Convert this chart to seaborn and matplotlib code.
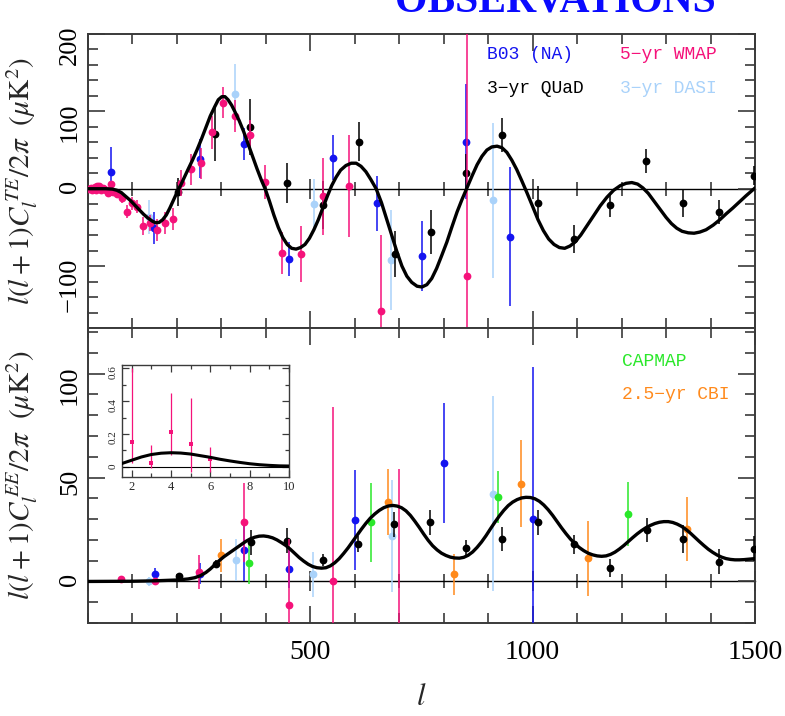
import numpy as np
import pandas as pd
import matplotlib
matplotlib.use('Agg')
import matplotlib.pyplot as plt
import seaborn as sns
from matplotlib.ticker import MultipleLocator, FixedLocator

sns.set_theme(style='ticks')
plt.rcParams['font.family'] = ['Liberation Serif', 'DejaVu Serif']
plt.rcParams['mathtext.fontset'] = 'stix'

# ---------------- TE panel data ----------------
te_theory_l = [0, 20, 40, 55, 65, 75, 85, 95, 105, 115, 125, 135, 145, 152, 160, 168, 176, 184, 192,
               200, 208, 216, 225, 235, 245, 255, 265, 275, 285, 293, 301, 308, 315, 323, 330, 340,
               350, 360, 370, 380, 390, 399, 408, 418, 428, 438, 448, 458, 468, 478, 488, 498, 508,
               518, 528, 538, 548, 558, 568, 580, 592, 603, 614, 625, 636, 648, 660, 672, 684, 695,
               706, 717, 728, 740, 751, 762, 773, 784, 795, 807, 818, 830, 841, 852, 864, 875, 886,
               897, 908, 920, 931, 942, 953, 964, 975, 987, 1000, 1012, 1024, 1036, 1048, 1060, 1072,
               1084, 1095, 1108, 1122, 1137, 1152, 1167, 1182, 1197, 1210, 1223, 1236, 1248, 1260,
               1273, 1287, 1300, 1312, 1324, 1336, 1350, 1363, 1376, 1390, 1406, 1421, 1436, 1450,
               1465, 1480, 1500]
te_theory = [0, 0, 0, -0.5, -2, -5, -10, -15, -21, -27, -33, -38, -42, -44, -43.5, -40, -34, -25, -15,
             -5, 4, 14, 25, 37, 50, 64, 79, 94, 106, 115, 119, 119, 115, 108, 100, 88,
             74, 58, 42, 26, 11, -1, -16, -34, -50, -63, -72, -77, -78, -76, -72, -64, -53,
             -40, -25, -10, 4, 15, 24, 30, 33, 33, 29, 22, 12, 0, -18, -40, -62, -82,
             -100, -113, -121, -126, -127, -124, -116, -103, -87, -69, -50, -30, -14, 1, 17, 31, 42,
             50, 54, 55, 53, 47, 37, 25, 11, -5, -23, -40, -54, -65, -72, -76, -77,
             -74, -69, -60, -48, -35, -22, -11, -2, 4, 7, 8, 6, 1, -6,
             -16, -27, -37, -45, -51, -55, -57, -57.5, -56, -53, -47, -40, -32, -25,
             -17, -9, 1]

wmap_te_l = [3, 6, 9, 12, 15, 18, 21, 24, 27, 30, 33, 36, 40, 44, 48, 52, 56,
             66, 77, 88, 99, 110, 124, 140, 155, 173, 191, 209, 232, 253, 279, 304, 331,
             364, 397, 436, 478, 528, 586, 659, 852]
wmap_te = [0, 1, -1, 0, 2, -1, 4, 3, 0, -2, 1, 0, -1, -5, -3, 6, -4,
           -7, -12.5, -29.6, -19, -23, -48, -44, -53, -44, -39, 7, 25, 33, 73, 111, 94,
           69, 9, -83, -84, -10, 4, -158, -113]
wmap_te_err = [2, 2, 2, 2, 2, 2, 2, 2, 2, 2, 2, 2, 3, 3, 3, 4, 4,
               5, 6, 8, 8, 9, 12, 10, 14, 14, 14, 17, 20, 20, 21, 20, 21,
               20, 22, 27, 36, 50, 66, 98, 330]

b03_te_l = [51, 149, 251, 350, 451, 550, 650, 751, 850, 949]
b03_te = [22, -51, 39, 58, -91, 40, -19, -87, 61, -62]
b03_te_err = [32, 21, 25, 21, 22, 29, 35, 45, 74, 90]

dasi_te_l = [137, 331, 509, 682, 910]
dasi_te = [-36, 122, -20, -92, -15]
dasi_te_err = [22, 39, 33, 65, 100]

quad_te_l = [202, 286, 365, 448, 528, 609, 691, 771, 850, 932, 1013, 1094, 1174, 1255, 1337, 1418, 1498]
quad_te = [-4, 71, 80, 7, -21, 61, -84, -56, 20, 69, -18, -65, -21, 36, -19, -30, 17]
quad_te_err = [18, 35, 36, 26, 31, 25, 30, 28, 25, 22, 22, 18, 16, 16, 17, 15, 12]

# ---------------- EE panel data ----------------
ee_theory_l = [0, 100, 150, 200, 225, 240, 253, 265, 275, 285, 295, 305, 315, 325, 335, 345, 355,
               365, 375, 385, 395, 405, 415, 425, 435, 445, 455, 465, 475, 485, 495, 505, 515, 525,
               535, 545, 555, 565, 575, 585, 595, 605, 615, 625, 635, 645, 655, 665, 675, 685, 695,
               705, 715, 725, 735, 745, 755, 765, 775, 785, 795, 805, 815, 825, 835, 845, 855, 865,
               875, 885, 895, 905, 915, 925, 935, 945, 955, 965, 975, 985, 995, 1005, 1015, 1025,
               1035, 1045, 1055, 1065, 1075, 1085, 1095, 1105, 1115, 1125, 1135, 1145, 1155, 1165,
               1175, 1185, 1195, 1205, 1215, 1225, 1235, 1245, 1255, 1265, 1275, 1285, 1295, 1305,
               1315, 1325, 1335, 1345, 1355, 1365, 1375, 1385, 1395, 1405, 1415, 1425, 1435, 1445,
               1455, 1465, 1475, 1485, 1500]
ee_theory = [0, 0.1, 0.3, 0.7, 1.2, 1.8, 2.8, 4.3, 6, 8, 10, 11.8, 13.3, 14.8, 16.3, 17.8, 19.3,
             20.5, 21.3, 21.8, 21.9, 21.6, 21, 20, 18.7, 17.3, 15.5, 13.5, 11.5, 9.8, 8.3, 7.2, 6.6, 6.4,
             6.6, 7.5, 9, 11, 13.5, 16.2, 19.2, 22.2, 25.2, 28, 30.5, 32.5, 34.2, 35.5, 36.3, 36.6, 36.3,
             35.5, 34, 31.8, 29, 26, 22.8, 19.8, 17.2, 15.2, 13.6, 12.5, 11.7, 11.3, 11.2, 11.6, 12.6, 14.2,
             16.4, 19, 22, 25.3, 28.5, 31.5, 34.2, 36.5, 38.2, 39.4, 40.2, 40.5, 40.4, 39.8, 38.6, 36.8,
             34.5, 31.8, 28.8, 25.8, 23, 20.4, 18.2, 16.3, 14.8, 13.6, 12.8, 12.3, 12.1, 12.3,
             13, 14.1, 15.6, 17.3, 19.2, 21.1, 22.9, 24.5, 25.9, 27, 27.9, 28.5, 28.8, 28.8,
             28.4, 27.6, 26.5, 25, 23.2, 21.2, 19.2, 17.3, 15.5, 14, 12.7, 11.7, 11, 10.6,
             10.4, 10.4, 10.5, 10.7, 11]

wmap_ee_l = [75, 150, 249, 350, 451, 550, 700]
wmap_ee = [1, 0, 4.5, 28.4, -11.5, 0, -30]
wmap_ee_err = [1, 1, 8, 19, 32, 84, 84]

b03_ee_l = [150, 251, 350, 451, 600, 800, 1000]
b03_ee = [3.4, 3.7, 15.2, 6, 29.5, 57, 30]
b03_ee_err = [3, 5, 15, 9, 24, 29, 73]

dasi_ee_l = [137, 333, 507, 684, 911]
dasi_ee = [0, 10.4, 3.4, 22, 42.3]
dasi_ee_err = [2, 10, 11, 27, 47]

quad_ee_l = [204, 287, 367, 448, 528, 607, 689, 770, 851, 932, 1013, 1094, 1174, 1257, 1337, 1418, 1498]
quad_ee = [2.4, 8.5, 18.8, 19.6, 10.4, 18, 27.6, 28.4, 16.1, 20.4, 28.4, 18, 6.4, 24.9, 20.4, 9.6, 15.7]
quad_ee_err = [1.5, 2, 6, 6, 3, 4, 6, 6, 4, 5.6, 6, 4.6, 4.4, 5.7, 6.6, 6, 6]

capmap_ee_l = [363, 636, 923, 1215]
capmap_ee = [9, 28.4, 40.7, 32.7]
capmap_ee_err = [10, 19, 12.6, 15.4]

cbi_ee_l = [300, 674, 824, 973, 1124, 1347]
cbi_ee = [12.5, 38.3, 3.4, 47.1, 11.2, 25.2]
cbi_ee_err = [8, 16, 10, 21, 18, 15.4]

# ---------------- inset (low-l EE) ----------------
inset_theory_l = [1.5, 2, 2.5, 3, 3.5, 4, 4.5, 5, 5.5, 6, 6.5, 7, 7.5, 8, 8.5, 9, 9.5, 10]
inset_theory = [0.02, 0.04, 0.06, 0.075, 0.083, 0.086, 0.084, 0.078, 0.068, 0.058, 0.046,
                0.036, 0.027, 0.019, 0.013, 0.009, 0.006, 0.005]
inset_l = [2, 3, 4, 5, 6]
inset_ee = [0.154, 0.025, 0.21, 0.137, 0.045]
inset_err_lo = [0.13, 0.03, 0.14, 0.167, 0.075]
inset_err_hi = [0.45, 0.108, 0.24, 0.28, 0.075]

# ---------------- labels ----------------
te_ticks = [-100, 0, 100, 200]
ee_ticks = [0, 50, 100]
x_ticks = [500, 1000, 1500]
inset_xticks = [2, 4, 6, 8, 10]
inset_yticks = [0, 0.2, 0.4, 0.6]

C_BLUE = '#1414f0'
C_MAG = '#f5127a'
C_LBLUE = '#a9d2fa'
C_GREEN = '#2ae82a'
C_ORANGE = '#ff8a1c'
C_BLACK = '#000000'
AX_COL = '#3a3a3a'

fig = plt.figure(figsize=(7.85, 7.16), dpi=100)
W, H = 785.0, 716.0
ax1 = fig.add_axes([88 / W, 1 - 328 / H, 667 / W, 294 / H])
ax2 = fig.add_axes([88 / W, 1 - 623 / H, 667 / W, 295 / H])


def data(ax, l, v, e, color, z, ms=5.6):
    ax.errorbar(l, v, yerr=e, fmt='o', color=color, ms=ms, mew=0, elinewidth=1.1,
                capsize=3.3, capthick=1.1, zorder=z)


def theory(ax, l, v, lw=2.4):
    df = pd.DataFrame({'l': l, 'v': v})
    sns.lineplot(data=df, x='l', y='v', ax=ax, color='black', lw=lw, zorder=10,
                 estimator=None, sort=True)


def zero_axis(ax, ylim):
    frac = (0 - ylim[0]) / (ylim[1] - ylim[0])
    sec = ax.secondary_xaxis(frac)
    sec.xaxis.set_major_locator(MultipleLocator(500))
    sec.xaxis.set_minor_locator(MultipleLocator(100))
    sec.tick_params(which='both', direction='inout', color=AX_COL, width=1.2,
                    labelbottom=False, labeltop=False)
    sec.tick_params(which='major', length=14)
    sec.tick_params(which='minor', length=10)
    for s in sec.spines.values():
        s.set_color('black')
        s.set_linewidth(1.0)


def style(ax, ylim, ymaj, ymin_):
    ax.set_xlim(0, 1500)
    ax.set_ylim(*ylim)
    ax.xaxis.set_major_locator(MultipleLocator(500))
    ax.xaxis.set_minor_locator(MultipleLocator(100))
    ax.yaxis.set_minor_locator(MultipleLocator(ymin_))
    ax.tick_params(which='both', direction='in', top=True, right=True, color=AX_COL,
                   width=1.2, labelcolor='black')
    ax.tick_params(which='major', length=12)
    ax.tick_params(which='minor', length=7)
    ax.tick_params(axis='y', labelrotation=90, labelsize=19, pad=5)
    ax.tick_params(axis='x', labelsize=20, pad=12)
    for s in ax.spines.values():
        s.set_color(AX_COL)
        s.set_linewidth(1.4)
    ax.set_xlabel('')


# ---------- top panel (TE) ----------
theory(ax1, te_theory_l, te_theory)
data(ax1, dasi_te_l, dasi_te, dasi_te_err, C_LBLUE, 3)
data(ax1, b03_te_l, b03_te, b03_te_err, C_BLUE, 4)
data(ax1, quad_te_l, quad_te, quad_te_err, C_BLACK, 5)
data(ax1, wmap_te_l, wmap_te, wmap_te_err, C_MAG, 6)
style(ax1, (-180, 200), 100, 20)
ax1.yaxis.set_major_locator(FixedLocator(te_ticks))
ax1.set_yticklabels(['\u2212100', '0', '100', '200'])
ax1.tick_params(axis='x', labelbottom=False)
zero_axis(ax1, (-180, 200))
ax1.set_ylabel(r'$l(l+1)C_l^{\,TE}/2\pi\ \ (\mu\mathrm{K}^2)$', fontsize=21)
ax1.yaxis.set_label_coords(-0.072, 0.5)

leg = dict(transform=ax1.transAxes, family='Liberation Mono', fontsize=13, va='center', ha='left')
ax1.text(0.598, 0.929, 'B03 (NA)', color=C_BLUE, **leg)
ax1.text(0.798, 0.929, '5\u2212yr WMAP', color=C_MAG, **leg)
ax1.text(0.598, 0.813, '3\u2212yr QUaD', color=C_BLACK, **leg)
ax1.text(0.798, 0.813, '3\u2212yr DASI', color=C_LBLUE, **leg)

# ---------- bottom panel (EE) ----------
theory(ax2, ee_theory_l, ee_theory)
data(ax2, dasi_ee_l, dasi_ee, dasi_ee_err, C_LBLUE, 3)
data(ax2, b03_ee_l, b03_ee, b03_ee_err, C_BLUE, 4)
data(ax2, capmap_ee_l, capmap_ee, capmap_ee_err, C_GREEN, 4)
data(ax2, cbi_ee_l, cbi_ee, cbi_ee_err, C_ORANGE, 4)
data(ax2, quad_ee_l, quad_ee, quad_ee_err, C_BLACK, 5)
data(ax2, wmap_ee_l, wmap_ee, wmap_ee_err, C_MAG, 6)
style(ax2, (-20, 122), 50, 10)
ax2.yaxis.set_major_locator(FixedLocator(ee_ticks))
ax2.xaxis.set_major_locator(FixedLocator(x_ticks))
zero_axis(ax2, (-20, 122))
ax2.set_ylabel(r'$l(l+1)C_l^{\,EE}/2\pi\ \ (\mu\mathrm{K}^2)$', fontsize=21)
ax2.yaxis.set_label_coords(-0.072, 0.5)
ax2.set_xlabel(r'$l$', fontsize=22)
ax2.xaxis.set_label_coords(0.5, -0.205)

leg2 = dict(transform=ax2.transAxes, family='Liberation Mono', fontsize=13, va='center', ha='left')
ax2.text(0.801, 0.885, 'CAPMAP', color=C_GREEN, **leg2)
ax2.text(0.801, 0.773, '2.5\u2212yr CBI', color=C_ORANGE, **leg2)

# ---------- inset ----------
axin = fig.add_axes([121.7 / W, 1 - 476.7 / H, 167.3 / W, 111.7 / H])
axin.set_facecolor('white')
axin.axhline(0, color='black', lw=0.8, zorder=2)
theory(axin, inset_theory_l, inset_theory, lw=2.2)
axin.errorbar(inset_l, inset_ee, yerr=[inset_err_lo, inset_err_hi], fmt='s', color=C_MAG,
              ms=3.2, mew=0, elinewidth=0.9, capsize=2.2, capthick=0.9, zorder=6)
axin.set_xlim(1.5, 10)
axin.set_ylim(-0.06, 0.62)
axin.xaxis.set_major_locator(FixedLocator(inset_xticks))
axin.xaxis.set_minor_locator(MultipleLocator(1))
axin.yaxis.set_major_locator(FixedLocator(inset_yticks))
axin.yaxis.set_minor_locator(MultipleLocator(0.1))
axin.set_yticklabels(['0', '0.2', '0.4', '0.6'])
axin.tick_params(which='both', direction='in', top=True, right=True, color=AX_COL, width=0.9)
axin.tick_params(which='major', length=5)
axin.tick_params(which='minor', length=3)
axin.tick_params(axis='x', labelsize=9, pad=3)
axin.tick_params(axis='y', labelsize=8, labelrotation=90, pad=3)
for s in axin.spines.values():
    s.set_color(AX_COL)
    s.set_linewidth(1.0)
axin.set_xlabel('')
axin.set_ylabel('')

# ---------- title (cut off at top, as in the original) ----------
fig.text(0.708, 1 - 12 / H, 'OBSERVATIONS', color='#0a0aff', fontsize=30, fontweight='bold',
         ha='center', va='baseline', family='Liberation Serif')

fig.savefig('out.png', dpi=100, facecolor='white')
